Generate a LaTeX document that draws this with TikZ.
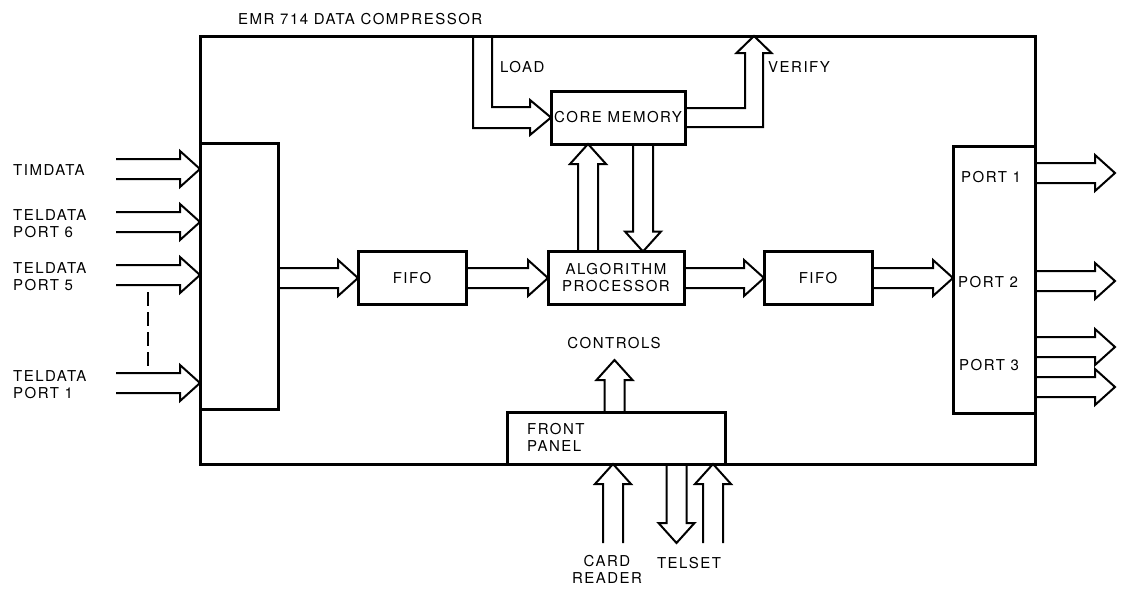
\documentclass[tikz,border=0pt]{standalone}
\usepackage{fontspec}
\setmainfont{TeX Gyre Heros}[LetterSpace=10]
\usetikzlibrary{calc}

\tikzset{
  blk/.style={draw, line width=3pt, inner sep=0pt, outer sep=0pt, align=center},
  busline/.style={line width=2pt, line join=miter},
  lbl/.style={inner sep=0pt, align=left},
}
% hollow bus arrow from #1 to tip #2
\newcommand{\busarrow}[2]{%
  \coordinate (bn) at ($(#2)!20pt!(#1)$);
  \draw[busline] ($(#1)!10pt!90:(#2)$) -- ($(bn)!10pt!90:(#2)$)
    -- ($(bn)!18pt!90:(#2)$) -- (#2) -- ($(bn)!18pt!-90:(#2)$)
    -- ($(bn)!10pt!-90:(#2)$) -- ($(#1)!10pt!-90:(#2)$);}

\begin{document}
\begin{tikzpicture}[x=1pt,y=-1pt,font=\fontsize{15}{17}\selectfont]
  \useasboundingbox (0,0) rectangle (1125,589);
  %% Frame and title
  \node[blk, minimum width=835pt, minimum height=428pt] (emr) at (617.5,250) {};
  \node[lbl, anchor=west] (title) at (238,19) {EMR 714 DATA COMPRESSOR};
  %% Blocks
  \node[blk, minimum width=78pt, minimum height=266pt] (mux) at (239,276) {};
  \node[blk, minimum width=108pt, minimum height=53pt] (fifoin) at (412,278) {FIFO};
  \node[blk, minimum width=134pt, minimum height=53pt] (core) at (618,117.5) {CORE MEMORY};
  \node[blk, minimum width=136pt, minimum height=53pt] (alg) at (616,278) {ALGORITHM\\PROCESSOR};
  \node[blk, minimum width=108pt, minimum height=53pt] (fifoout) at (818,278) {FIFO};
  \node[blk, minimum width=82pt, minimum height=267pt] (ports) at (994,279.5) {};
  \node[blk, minimum width=218pt, minimum height=52pt] (panel) at (616,438) {};
  \node[lbl, anchor=west] (p1) at (961,177) {PORT 1};
  \node[lbl, anchor=west] (p2) at (958,282) {PORT 2};
  \node[lbl, anchor=west] (p3) at (959,365) {PORT 3};
  \node[lbl, anchor=west] (fp) at (527,437) {FRONT\\PANEL};
  %% Inputs
  \foreach \y/\n in {169/a,222/b,275/c,383/d} {
    \coordinate (in\n) at (116,\y);
    \coordinate (it\n) at (in\n -| mux.west);
    \busarrow{in\n}{it\n}
  }
  \node[lbl, anchor=west] (timdata) at (13,170) {TIMDATA};
  \node[lbl, anchor=west] (tel6) at (13,224) {TELDATA\\PORT 6};
  \node[lbl, anchor=west] (tel5) at (13,277) {TELDATA\\PORT 5};
  \node[lbl, anchor=west] (tel1) at (13,385) {TELDATA\\PORT 1};
  \coordinate (dsa) at (148,292);
  \coordinate (dsb) at (148,368);
  \draw[line width=2pt, dash pattern=on 14pt off 6pt] (dsa) -- (dsb);
  %% Data path
  \coordinate (mo) at (mux.east |- fifoin.west);
  \busarrow{mo}{fifoin.west}
  \busarrow{fifoin.east}{alg.west}
  \busarrow{alg.east}{fifoout.west}
  \coordinate (pi) at (fifoout.east -| ports.west);
  \busarrow{fifoout.east}{pi}
  %% Core memory <-> processor
  \coordinate (upa) at ($(alg.north)+(-28,0)$);
  \coordinate (upb) at ($(core.south)+(-30,0)$);
  \busarrow{upa}{upb}
  \coordinate (dna) at ($(core.south)+(25,0)$);
  \coordinate (dnb) at ($(alg.north)+(27,0)$);
  \busarrow{dna}{dnb}
  %% Load and verify
  \coordinate (ldtop) at ($(emr.north)+(-135,0)$);
  \draw[busline] ($(ldtop)+(9.5,0)$) |- ($(core.west)+(-21,-10.5)$) -- ++(0,-7)
    -- (core.west) -- ($(core.west)+(-21,17.5)$) -- ++(0,-7) -| ($(ldtop)+(-9.5,0)$);
  \node[lbl, anchor=west] (load) at (500,67) {LOAD};
  \coordinate (vftop) at ($(emr.north)+(136.5,0)$);
  \draw[busline] ($(core.east)+(0,-9.5)$) -| ($(vftop)+(-9,17)$) -- ($(vftop)+(-17.5,17)$)
    -- (vftop) -- ($(vftop)+(17.5,17)$) -- ($(vftop)+(9,17)$) |- ($(core.east)+(0,9.5)$);
  \node[lbl, anchor=west] (verify) at (768,67) {VERIFY};
  %% Outputs
  \foreach \y/\n in {173/a,281/b,347/c,387/d} {
    \coordinate (ot\n) at (1115,\y);
    \coordinate (os\n) at (ot\n -| ports.east);
    \busarrow{os\n}{ot\n}
  }
  %% Front panel
  \coordinate (cts) at ($(panel.north)+(-1.5,0)$);
  \coordinate (ctl) at ($(panel.north)+(-1.5,-52)$);
  \busarrow{cts}{ctl}
  \node[lbl] (controls) at (614,343) {CONTROLS};
  \coordinate (cr) at (613,543);
  \coordinate (crt) at (cr |- emr.south);
  \busarrow{cr}{crt}
  \coordinate (tdb) at (676.5,543);
  \coordinate (tda) at (tdb |- emr.south);
  \busarrow{tda}{tdb}
  \coordinate (tu) at (713,543);
  \coordinate (tut) at (tu |- emr.south);
  \busarrow{tu}{tut}
  \node[lbl, align=center] (card) at (607,569) {CARD\\READER};
  \node[lbl] (telset) at (689,563) {TELSET};
\end{tikzpicture}
\end{document}
